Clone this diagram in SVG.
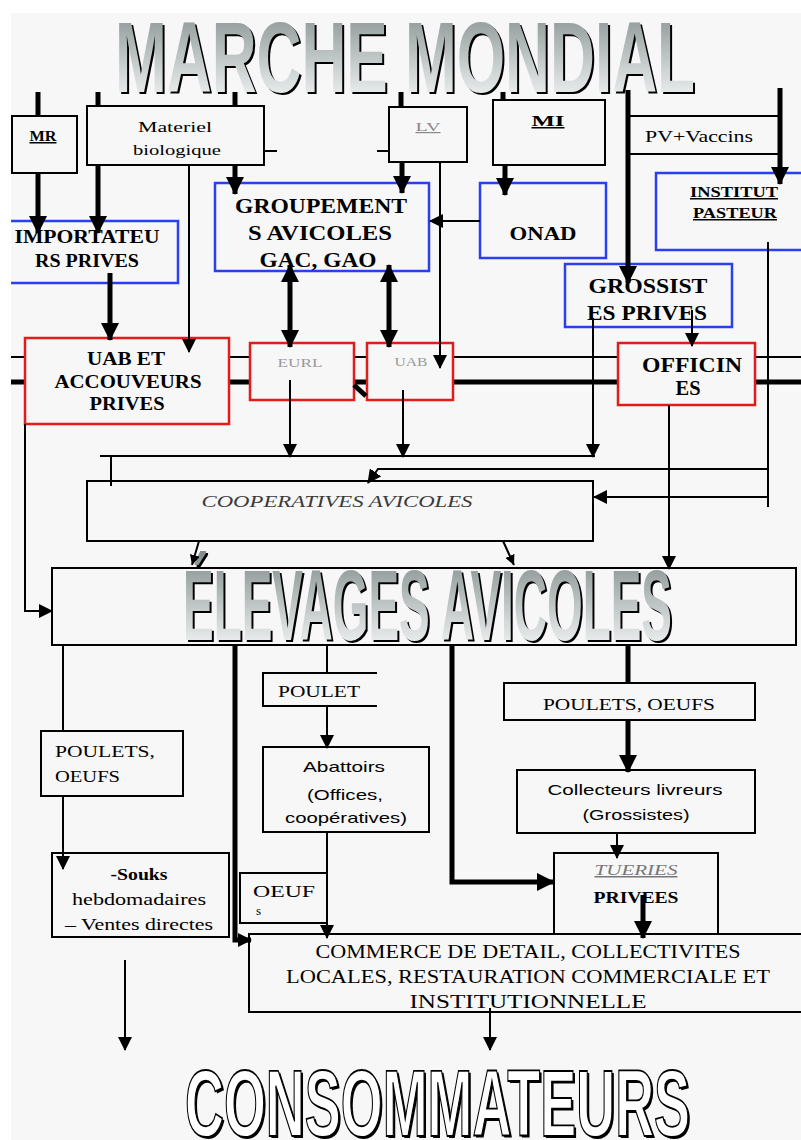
<svg xmlns="http://www.w3.org/2000/svg" width="801" height="1140" viewBox="0 0 801 1140">
<defs>
<linearGradient id="tg" x1="0" y1="0" x2="0" y2="1">
<stop offset="0" stop-color="#7f8989"/>
<stop offset="0.55" stop-color="#c6cccc"/>
<stop offset="1" stop-color="#ffffff"/>
</linearGradient>
<marker id="big" markerUnits="userSpaceOnUse" viewBox="0 0 18 18" markerWidth="18" markerHeight="18" refX="17" refY="9" orient="auto-start-reverse"><path d="M0,0 L18,9 L0,18 z" fill="#000"/></marker>
<marker id="med" markerUnits="userSpaceOnUse" viewBox="0 0 14 14" markerWidth="14" markerHeight="14" refX="13" refY="7" orient="auto"><path d="M0,0 L14,7 L0,14 z" fill="#000"/></marker>
<marker id="sm" markerUnits="userSpaceOnUse" viewBox="0 0 10 10" markerWidth="10" markerHeight="10" refX="10" refY="5" orient="auto"><path d="M0,0 L10,5 L0,10 z" fill="#000"/></marker>
<style>
.bb{fill:#f7f7f7;stroke:#000;stroke-width:2}
.bl{fill:#f7f7f7;stroke:#2b3ff2;stroke-width:2.5}
.rd{fill:#f7f7f7;stroke:#e31b1b;stroke-width:2.5}
.th{stroke:#000;stroke-width:5;fill:none}
.tn{stroke:#000;stroke-width:2;fill:none}
.sb{font-family:"Liberation Serif",serif;font-weight:bold;text-anchor:middle;fill:#000}
.sr{font-family:"Liberation Serif",serif;text-anchor:middle;fill:#000}
.ss{font-family:"Liberation Sans",sans-serif;text-anchor:middle;fill:#000}
.ttl{font-family:"Liberation Sans",sans-serif;font-weight:bold}
</style>
</defs>
<rect x="0" y="0" width="801" height="1140" fill="#ffffff"/>
<rect x="11" y="13" width="790" height="1127" fill="#f7f7f7"/>

<g id="bus">
<line x1="11" y1="357" x2="801" y2="357" class="tn"/>
<line x1="11" y1="382" x2="801" y2="382" class="th"/>
</g>

<g id="title-marche">
<text transform="translate(117,94) scale(1,1.68)" x="0" y="0" class="ttl" font-size="60" fill="#000" textLength="580" lengthAdjust="spacingAndGlyphs">MARCHE MONDIAL</text>
<text transform="translate(115,92) scale(1,1.68)" x="0" y="0" class="ttl" font-size="60" fill="url(#tg)" textLength="580" lengthAdjust="spacingAndGlyphs">MARCHE MONDIAL</text>
</g>

<g id="n-mr"><rect x="12" y="116" width="65" height="57" class="bb"/>
<text x="43" y="141" class="sb" font-size="15" text-decoration="underline" textLength="27" lengthAdjust="spacingAndGlyphs">MR</text></g>

<g id="n-materiel"><rect x="87" y="106" width="177" height="59" class="bb"/>
<text x="175" y="132" class="sr" font-size="15" textLength="74" lengthAdjust="spacingAndGlyphs">Materiel</text>
<text x="177" y="155" class="sr" font-size="15" textLength="88" lengthAdjust="spacingAndGlyphs">biologique</text></g>

<g id="n-importateurs"><rect x="11" y="221" width="167" height="62" fill="#f7f7f7"/>
<path d="M11,221 H178 V283 H11" fill="none" stroke="#2b3ff2" stroke-width="2.5"/>
<text x="87" y="243" class="sb" font-size="18" textLength="145" lengthAdjust="spacingAndGlyphs">IMPORTATEU</text>
<text x="87" y="267" class="sb" font-size="18" textLength="104" lengthAdjust="spacingAndGlyphs">RS PRIVES</text></g>

<g id="n-groupements"><rect x="215" y="183" width="214" height="88" class="bl"/>
<text x="321" y="213" class="sb" font-size="22" textLength="172" lengthAdjust="spacingAndGlyphs">GROUPEMENT</text>
<text x="320" y="240" class="sb" font-size="22" textLength="144" lengthAdjust="spacingAndGlyphs">S AVICOLES</text>
<text x="318" y="267" class="sb" font-size="22" textLength="117" lengthAdjust="spacingAndGlyphs">GAC, GAO</text></g>

<g id="n-lv"><rect x="389" y="107" width="78" height="55" class="bb"/>
<text x="428" y="131" class="sr" font-size="12" style="fill:#888" text-decoration="underline" textLength="25" lengthAdjust="spacingAndGlyphs">LV</text></g>

<g id="n-mi"><rect x="493" y="100" width="112" height="65" class="bb"/>
<text x="548" y="126" class="sb" font-size="15" text-decoration="underline" textLength="33" lengthAdjust="spacingAndGlyphs">MI</text></g>

<g id="n-onad"><rect x="480" y="183" width="126" height="75" class="bl"/>
<text x="543" y="240" class="sb" font-size="19" textLength="67" lengthAdjust="spacingAndGlyphs">ONAD</text></g>

<g id="n-pv"><path d="M628,116 H780 M628,154 H780" class="tn"/>
<text x="699" y="142" class="sr" font-size="16" textLength="108" lengthAdjust="spacingAndGlyphs">PV+Vaccins</text></g>

<g id="n-institut"><rect x="656" y="173" width="150" height="77" class="bl"/>
<text x="734" y="197" class="sb" font-size="15" text-decoration="underline" textLength="88" lengthAdjust="spacingAndGlyphs">INSTITUT</text>
<text x="735" y="218" class="sb" font-size="15" text-decoration="underline" textLength="84" lengthAdjust="spacingAndGlyphs">PASTEUR</text></g>

<g id="n-grossistes"><rect x="565" y="264" width="167" height="63" class="bl"/>
<text x="648" y="293" class="sb" font-size="21" textLength="119" lengthAdjust="spacingAndGlyphs">GROSSIST</text>
<text x="647" y="320" class="sb" font-size="21" textLength="120" lengthAdjust="spacingAndGlyphs">ES PRIVES</text></g>

<g id="n-uab-acc"><rect x="25" y="338" width="204" height="86" class="rd"/>
<text x="126" y="365" class="sb" font-size="18" textLength="78" lengthAdjust="spacingAndGlyphs">UAB ET</text>
<text x="128" y="388" class="sb" font-size="18" textLength="147" lengthAdjust="spacingAndGlyphs">ACCOUVEURS</text>
<text x="127" y="410" class="sb" font-size="18" textLength="75" lengthAdjust="spacingAndGlyphs">PRIVES</text></g>

<g id="n-eurl"><rect x="250" y="343" width="104" height="57" class="rd"/>
<text x="300" y="367" class="sr" font-size="13" style="fill:#999" textLength="45" lengthAdjust="spacingAndGlyphs">EURL</text></g>

<g id="n-uab"><rect x="367" y="343" width="86" height="57" class="rd"/>
<text x="411" y="366" class="sr" font-size="13" style="fill:#999" textLength="33" lengthAdjust="spacingAndGlyphs">UAB</text></g>

<g id="n-officines"><rect x="618" y="343" width="137" height="62" class="rd"/>
<text x="692" y="372" class="sb" font-size="21" textLength="100" lengthAdjust="spacingAndGlyphs">OFFICIN</text>
<text x="688" y="395" class="sb" font-size="21" textLength="25" lengthAdjust="spacingAndGlyphs">ES</text></g>

<g id="n-coop"><rect x="87" y="481" width="506" height="60" class="bb"/>
<text x="337" y="507" class="sr" font-size="17" font-style="italic" style="fill:#3a3a3a" textLength="271" lengthAdjust="spacingAndGlyphs">COOPERATIVES AVICOLES</text></g>

<g id="n-elevages"><rect x="52" y="568" width="744" height="77" class="bb"/>
<text transform="translate(185,642) scale(1,2.23)" x="0" y="0" class="ttl" font-size="45" fill="#000" textLength="489" lengthAdjust="spacingAndGlyphs">ÉLEVAGES AVICOLES</text>
<text transform="translate(183,640) scale(1,2.23)" x="0" y="0" class="ttl" font-size="45" fill="url(#tg)" textLength="489" lengthAdjust="spacingAndGlyphs">ÉLEVAGES AVICOLES</text></g>

<g id="n-poulets-l"><rect x="41" y="731" width="142" height="65" class="bb"/>
<text x="55" y="757" class="sr" font-size="17" style="text-anchor:start" textLength="100" lengthAdjust="spacingAndGlyphs">POULETS,</text>
<text x="55" y="782" class="sr" font-size="17" style="text-anchor:start" textLength="65" lengthAdjust="spacingAndGlyphs">OEUFS</text></g>

<g id="n-poulet"><path d="M377,673 H263 V706 H377" class="tn" style="fill:#f7f7f7"/>
<text x="278" y="697" class="sr" font-size="17" style="text-anchor:start" textLength="82" lengthAdjust="spacingAndGlyphs">POULET</text></g>

<g id="n-abattoirs"><rect x="263" y="747" width="166" height="85" class="bb"/>
<text x="344" y="772" class="ss" font-size="15" textLength="82" lengthAdjust="spacingAndGlyphs">Abattoirs</text>
<text x="345" y="800" class="ss" font-size="15" textLength="76" lengthAdjust="spacingAndGlyphs">(Offices,</text>
<text x="346" y="823" class="ss" font-size="15" textLength="122" lengthAdjust="spacingAndGlyphs">coopératives)</text></g>

<g id="n-poulets-r"><rect x="504" y="683" width="251" height="37" class="bb"/>
<text x="629" y="710" class="sr" font-size="17" textLength="172" lengthAdjust="spacingAndGlyphs">POULETS, OEUFS</text></g>

<g id="n-collecteurs"><rect x="517" y="770" width="238" height="63" class="bb"/>
<text x="635" y="795" class="ss" font-size="15" textLength="175" lengthAdjust="spacingAndGlyphs">Collecteurs  livreurs</text>
<text x="636" y="820" class="ss" font-size="15" textLength="107" lengthAdjust="spacingAndGlyphs">(Grossistes)</text></g>

<g id="n-souks"><rect x="52" y="853" width="177" height="84" class="bb"/>
<text x="139" y="880" class="sr" font-size="16" font-weight="bold" textLength="57" lengthAdjust="spacingAndGlyphs">-Souks</text>
<text x="139" y="905" class="sr" font-size="16" textLength="134" lengthAdjust="spacingAndGlyphs">hebdomadaires</text>
<text x="139" y="930" class="sr" font-size="16" textLength="148" lengthAdjust="spacingAndGlyphs">– Ventes directes</text></g>

<g id="n-oeufs"><rect x="240" y="873" width="87" height="50" class="bb"/>
<text x="253" y="897" class="sr" font-size="17" style="text-anchor:start" textLength="62" lengthAdjust="spacingAndGlyphs">OEUF</text>
<text x="256" y="915" class="sr" font-size="13" style="text-anchor:start">s</text></g>

<g id="n-tueries"><rect x="554" y="853" width="164" height="81" class="bb"/>
<text x="636" y="875" class="sr" font-size="15" font-style="italic" style="fill:#777" text-decoration="underline" textLength="83" lengthAdjust="spacingAndGlyphs">TUERIES</text>
<text x="636" y="903" class="sb" font-size="16" textLength="85" lengthAdjust="spacingAndGlyphs">PRIVEES</text></g>

<g id="n-commerce"><rect x="249" y="934" width="560" height="78" class="bb"/>
<text x="528" y="958" class="sr" font-size="19" textLength="425" lengthAdjust="spacingAndGlyphs">COMMERCE DE DETAIL, COLLECTIVITES</text>
<text x="528" y="983" class="sr" font-size="19" textLength="484" lengthAdjust="spacingAndGlyphs">LOCALES, RESTAURATION COMMERCIALE ET</text>
<text x="528" y="1008" class="sr" font-size="19" textLength="237" lengthAdjust="spacingAndGlyphs">INSTITUTIONNELLE</text></g>

<g id="title-consommateurs">
<text transform="translate(187,1138) scale(1,1.8)" x="0" y="0" class="ttl" font-size="53" fill="#000" textLength="505" lengthAdjust="spacingAndGlyphs">CONSOMMATEURS</text>
<text transform="translate(185,1136) scale(1,1.8)" x="0" y="0" class="ttl" font-size="53" fill="#ffffff" stroke="#000" stroke-width="1" textLength="505" lengthAdjust="spacingAndGlyphs">CONSOMMATEURS</text>
</g>

<g id="connectors">
<line x1="38" y1="92" x2="38" y2="116" class="th"/>
<line x1="98" y1="92" x2="98" y2="106" class="th"/>
<line x1="235" y1="92" x2="235" y2="106" class="th"/>
<line x1="401" y1="92" x2="401" y2="107" class="th"/>
<line x1="503" y1="92" x2="503" y2="100" class="th"/>
<line x1="628" y1="90" x2="628" y2="283" class="th" marker-end="url(#big)"/>
<line x1="780" y1="88" x2="780" y2="184" class="th" marker-end="url(#big)"/>
<line x1="38" y1="173" x2="38" y2="233" class="th" marker-end="url(#big)"/>
<line x1="98" y1="165" x2="98" y2="233" class="th" marker-end="url(#big)"/>
<line x1="235" y1="165" x2="235" y2="194" class="th" marker-end="url(#big)"/>
<line x1="189" y1="165" x2="189" y2="352" class="tn" marker-end="url(#med)"/>
<line x1="264" y1="151" x2="277" y2="151" class="tn"/>
<line x1="377" y1="151" x2="389" y2="151" class="tn"/>
<line x1="110" y1="273" x2="110" y2="340" class="th" marker-end="url(#big)"/>
<line x1="402" y1="162" x2="402" y2="193" class="th" marker-end="url(#big)"/>
<line x1="440" y1="162" x2="440" y2="368" class="tn" marker-end="url(#med)"/>
<line x1="505" y1="165" x2="505" y2="195" class="th" marker-end="url(#big)"/>
<line x1="480" y1="221" x2="430" y2="221" class="tn" marker-end="url(#med)"/>
<line x1="290" y1="265" x2="290" y2="347" class="th" marker-start="url(#big)" marker-end="url(#big)"/>
<line x1="389" y1="265" x2="389" y2="347" class="th" marker-start="url(#big)" marker-end="url(#big)"/>
<path d="M354,385 L366,396" class="th"/>
<line x1="692" y1="310" x2="692" y2="346" class="tn" marker-end="url(#med)"/>
<line x1="290" y1="380" x2="290" y2="457" class="tn" marker-end="url(#med)"/>
<line x1="403" y1="390" x2="403" y2="457" class="tn" marker-end="url(#med)"/>
<line x1="593" y1="318" x2="593" y2="457" class="tn" marker-end="url(#med)"/>
<line x1="100" y1="456" x2="595" y2="456" class="tn"/>
<line x1="111" y1="456" x2="111" y2="486" class="tn"/>
<line x1="768" y1="242" x2="768" y2="507" class="tn"/>
<path d="M768,469 H378 L368,483" class="tn" marker-end="url(#med)"/>
<line x1="768" y1="497" x2="594" y2="497" class="tn" marker-end="url(#med)"/>
<line x1="669" y1="405" x2="669" y2="569" class="tn" marker-end="url(#med)"/>
<line x1="199" y1="541" x2="192" y2="565" class="tn" marker-end="url(#sm)"/>
<line x1="503" y1="541" x2="514" y2="565" class="tn" marker-end="url(#sm)"/>
<path d="M25,424 V611 H52" class="tn" marker-end="url(#med)"/>
<line x1="63" y1="645" x2="63" y2="731" class="tn"/>
<line x1="63" y1="796" x2="63" y2="869" class="tn" marker-end="url(#med)"/>
<path d="M235,645 V940 H251" class="th" marker-end="url(#med)"/>
<line x1="327" y1="645" x2="327" y2="673" class="tn"/>
<line x1="327" y1="706" x2="327" y2="748" class="tn" marker-end="url(#med)"/>
<line x1="327" y1="832" x2="327" y2="938" class="tn" marker-end="url(#med)"/>
<path d="M452,645 V882 H554" class="th" marker-end="url(#big)"/>
<line x1="628" y1="645" x2="628" y2="683" class="th"/>
<line x1="628" y1="720" x2="628" y2="772" class="th" marker-end="url(#big)"/>
<line x1="617" y1="833" x2="617" y2="858" class="tn" marker-end="url(#med)"/>
<line x1="643" y1="895" x2="643" y2="938" class="th" marker-end="url(#big)"/>
<line x1="125" y1="960" x2="125" y2="1050" class="tn" marker-end="url(#med)"/>
<line x1="490" y1="1008" x2="490" y2="1050" class="tn" marker-end="url(#med)"/>
</g>
</svg>
